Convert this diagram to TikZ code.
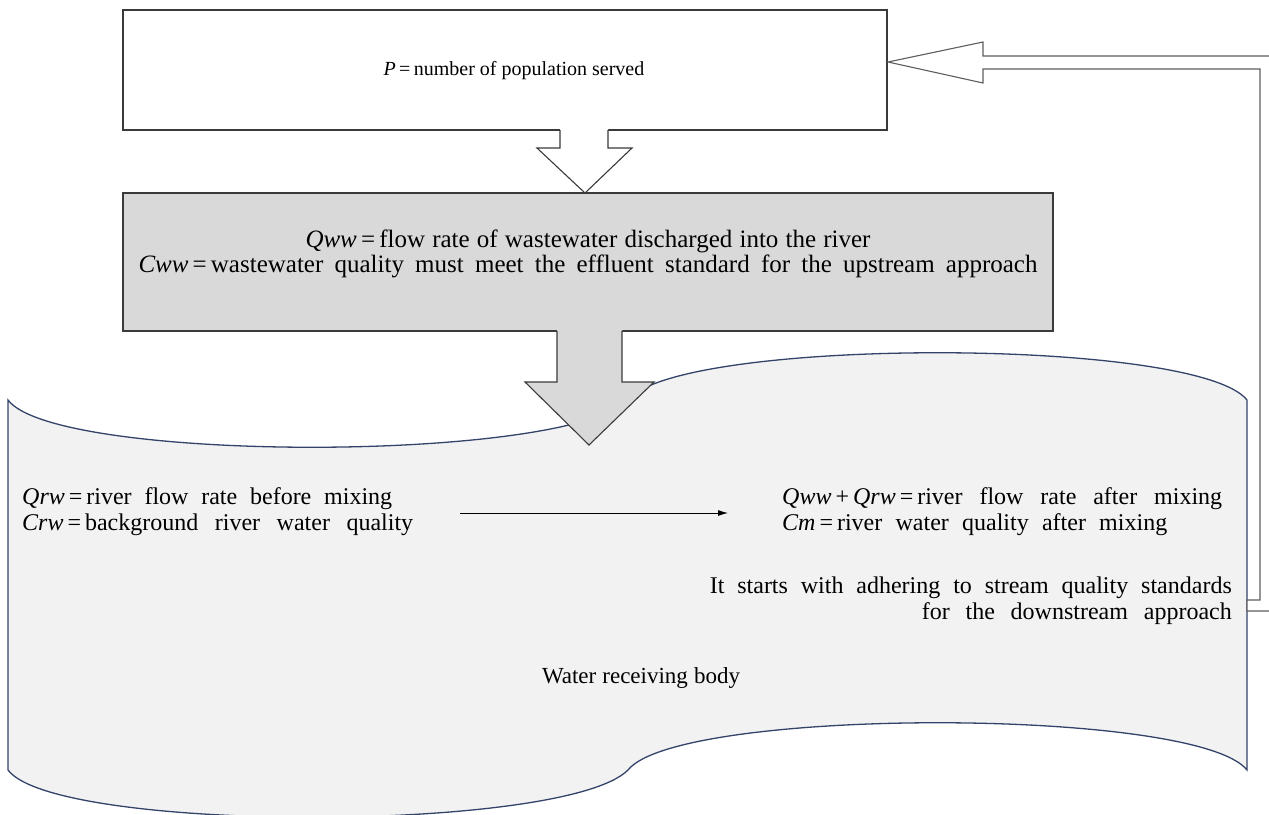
\documentclass[tikz,border=0pt]{standalone}
\usepackage{fontspec}
\setmainfont{Liberation Serif}
\usetikzlibrary{arrows.meta}
\definecolor{wavefill}{HTML}{F2F2F2}
\definecolor{waveline}{HTML}{34436A}
\definecolor{boxgray}{HTML}{D9D9D9}
\definecolor{edgecol}{HTML}{3A3A3A}
\definecolor{fbedge}{HTML}{5E5E5E}
\newcommand{\fitline}[2]{\makebox[#1][s]{#2}}
\hbadness=10000
\begin{document}
\begin{tikzpicture}[x=1pt,y=-1pt,
  txt/.style={inner sep=0pt, font=\fontsize{24}{26}\selectfont},
  whitebox/.style={draw=edgecol, line width=1.1pt, fill=white, inner sep=0pt},
  graybox/.style={draw=edgecol, line width=1.1pt, fill=boxgray, inner sep=0pt},
  wavebody/.style={draw=waveline, line width=1.3pt, fill=wavefill},
  blockline/.style={draw=edgecol, line width=1.1pt, line join=miter},
  fbline/.style={draw=fbedge, line width=1.1pt, fill=white, line join=miter},
  thinarrow/.style={-{Latex[length=10pt,width=6pt]}, line width=0.9pt, draw=black}]
\useasboundingbox (0,0) rectangle (1269,814);
\clip (0,0) rectangle (1269,814);
% boxes
\node[whitebox, minimum width=764pt, minimum height=120pt] (pop) at (505,70) {};
\node[graybox, minimum width=930pt, minimum height=138pt] (ww) at (588,262) {};
% water receiving body (wave shape)
\draw[wavebody] (8,400) .. controls (55,463) and (565,463) .. (628,400)
  .. controls (678,337) and (1197,337) .. (1247,400) -- (1247,770)
  .. controls (1197,707) and (678,707) .. (628,770)
  .. controls (565,833) and (55,833) .. (8,770) -- cycle;
% hollow arrow from population box to wastewater box
\fill[white] (560,128) -- (560,148) -- (537,148) -- (585,193) -- (632,148) -- (608,148) -- (608,128) -- cycle;
\draw[blockline] (560,130) -- (560,148) -- (537,148) -- (585,193) -- (632,148) -- (608,148) -- (608,130);
% big grey arrow into the river
\fill[boxgray] (557,329) -- (557,382) -- (525,382) -- (589,445) -- (654,382) -- (622,382) -- (622,329) -- cycle;
\draw[blockline] (557,331) -- (557,382) -- (525,382) -- (589,445) -- (654,382) -- (622,382) -- (622,331);
% feedback bent arrow
\draw[fbline] (1275,56) -- (983,56) -- (983,42) -- (888,62) -- (983,83) -- (983,69)
  -- (1260,69) -- (1260,600) -- (1247,600) -- (1247,611) -- (1275,611) -- cycle;
% mixing arrow
\coordinate (m1) at (460,513);
\coordinate (m2) at (728,513);
\draw[thinarrow] (m1) -- (m2);
% texts
\node[txt, font=\fontsize{20}{24}\selectfont] (ptxt) at (514,71) {\textit{P}\,=\,number of population served};
\node[txt, font=\fontsize{25}{25}\selectfont, align=center] (wwtxt) at (588,254) {\fitline{565pt}{\textit{Qww}\,=\,flow rate of wastewater discharged into the river}\\
  \fitline{899pt}{\textit{Cww}\,=\,wastewater quality must meet the effluent standard for the upstream approach}};
\node[txt, anchor=west, align=left] (rwtxt) at (22,512) {\fitline{370pt}{\textit{Qrw}\,=\,river flow rate before mixing}\\
  \fitline{391pt}{\textit{Crw}\,=\,background river water quality}};
\node[txt, anchor=west, align=left] (mtxt) at (782,512) {\fitline{440pt}{\textit{Qww}\,+\,\textit{Qrw}\,=\,river flow rate after mixing}\\
  \fitline{385pt}{\textit{Cm}\,=\,river water quality after mixing}};
\node[txt, anchor=east, align=right] (sttxt) at (1232,601) {\fitline{522pt}{It starts with adhering to stream quality standards}\\
  \fitline{310pt}{for the downstream approach}};
\node[txt, font=\fontsize{23}{26}\selectfont] (body) at (641,678) {\fitline{198pt}{Water receiving body}};
\end{tikzpicture}
\end{document}
